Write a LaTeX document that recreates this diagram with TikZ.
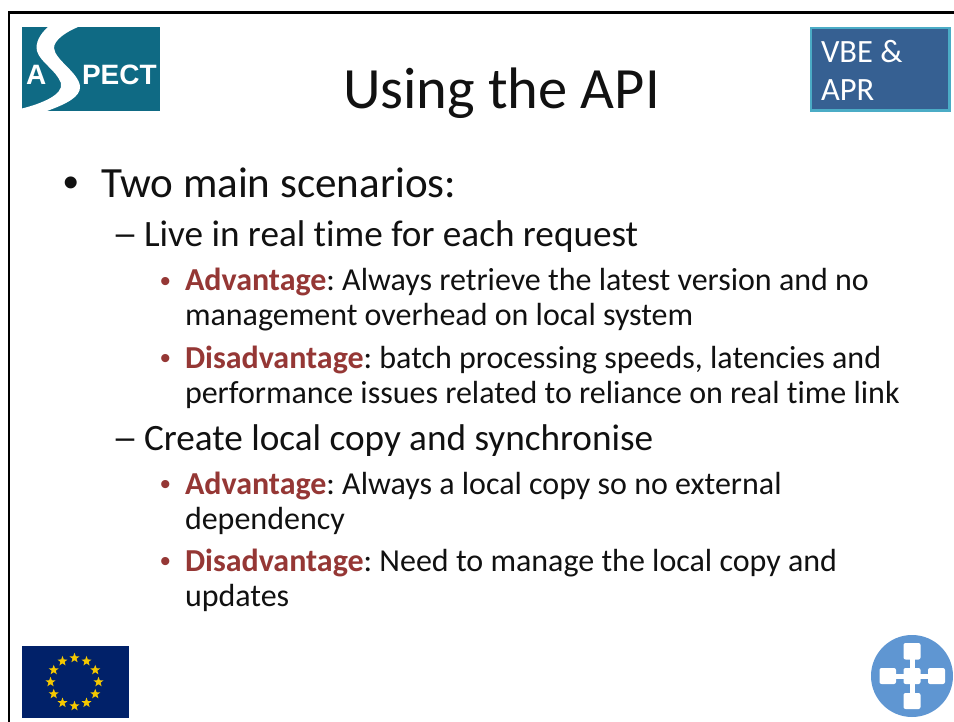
\documentclass[tikz,border=0pt]{standalone}
\usepackage{fontspec}
\setmainfont[Ligatures=NoCommon]{Carlito}
\newfontfamily\bulletfont{Liberation Sans}
\usetikzlibrary{shapes.geometric}
\definecolor{adv}{HTML}{953735}
\definecolor{teal}{HTML}{0F6A84}
\definecolor{vbe}{HTML}{366092}
\definecolor{vbeline}{HTML}{4BACC6}
\definecolor{euflag}{HTML}{012169}
\definecolor{eustar}{HTML}{F5C800}
\definecolor{hub}{HTML}{5F96D2}
\definecolor{ink}{HTML}{111111}
\frenchspacing
\tikzset{
  txt/.style={anchor=base west,inner sep=0pt,outer sep=0pt,text=ink},
  lone/.style={txt,font=\fontsize{43.1}{43.1}\selectfont},
  ltwo/.style={txt,font=\fontsize{37.2}{37.2}\selectfont},
  lthree/.style={txt,font=\fontsize{32}{32}\selectfont},
  dashtwo/.style={ltwo,xscale=1.4,transform shape},
  logotext/.style={txt,text=white,font=\bulletfont\bfseries\fontsize{28}{28}\selectfont},
  vbetext/.style={txt,text=white,font=\fontsize{32.5}{32.5}\selectfont},
  bulletthree/.style={txt,text=adv,font=\bulletfont\fontsize{30}{30}\selectfont},
  hubbox/.style={fill=white,rounded corners=2pt},
  eustarshape/.style={star,star points=5,star point ratio=2.4,fill=eustar,minimum size=10.5pt,inner sep=0pt}
}
\newcommand{\adv}[1]{\textbf{\textcolor{adv}{#1}}}
\begin{document}
\begin{tikzpicture}[x=1pt,y=-1pt]
\useasboundingbox (0,0) rectangle (954,722);
\fill[white] (0,0) rectangle (954,722);
% slide frame
\draw[line width=2.6pt,black] (9,722) -- (9,12.5) -- (954,12.5);
% ASPECT logo
\fill[teal] (22,27) rectangle (160,111);
\begin{scope}
\clip (22,27) rectangle (160,111);
\fill[white] (48,27) .. controls (40,34) and (35,43) .. (37,51)
  .. controls (40,62) and (56,70) .. (61,83)
  .. controls (64,95) and (40,104) .. (22,108.5)
  -- (22,111) -- (47,111)
  .. controls (66,104) and (81,97) .. (80,86)
  .. controls (78,72) and (55,60) .. (54,48)
  .. controls (54,40) and (66,32) .. (78,27) -- cycle;
\end{scope}
\node[logotext] (logoa) at (26,84.5) {A};
\node[logotext] (logop) at (82,84.5) {PECT};
% VBE box
\draw[line width=2.4pt,vbeline,fill=vbe] (811,28) rectangle (949.5,110.5);
\node[vbetext] (vbe1) at (821,63) {VBE \&};
\node[vbetext] (vbe2) at (821,101) {APR};
% title
\node[txt,font=\fontsize{58.5}{58.5}\selectfont] (title) at (343,109) {Using the API};
% body
\begin{scope}[shift={(0,1)}]
\node[txt,font=\bulletfont\fontsize{44}{44}\selectfont] (b0) at (63.5,196.5) {•};
\node[lone] (l0) at (101,196.5) {Two main scenarios:};
\node[dashtwo] (d1) at (112,246) {–};
\node[ltwo] (l1) at (144,246) {Live in real time for each request};
\node[bulletthree] (b2) at (160,290.5) {•};
\node[lthree] (l2) at (185,290) {\adv{Advantage}: Always retrieve the latest version and no};
\node[lthree] (l3) at (185,325) {management overhead on local system};
\node[bulletthree] (b4) at (160,367.5) {•};
\node[lthree] (l4) at (185,367) {\adv{Disadvantage}: batch processing speeds, latencies and};
\node[lthree] (l5) at (185,402) {performance issues related to reliance on real time link};
\node[dashtwo] (d6) at (112,449) {–};
\node[ltwo] (l6) at (144,449) {Create local copy and synchronise};
\node[bulletthree] (b7) at (160,493.5) {•};
\node[lthree] (l7) at (185,493) {\adv{Advantage}: Always a local copy so no external};
\node[lthree] (l8) at (185,528) {dependency};
\node[bulletthree] (b9) at (160,570.5) {•};
\node[lthree] (l9) at (185,570) {\adv{Disadvantage}: Need to manage the local copy and};
\node[lthree] (l10) at (185,605) {updates};
\end{scope}
% EU flag
\fill[euflag] (22,646) rectangle (129,718);
\foreach \a in {0,30,...,330}
  \node[eustarshape] at ({74.5+24*cos(\a)},{682-24*sin(\a)}) {};
% hub logo
\fill[hub] (912,676) circle (41);
\begin{scope}
\fill[white] (910,645) rectangle (915,708);
\fill[white] (880,674) rectangle (945,679);
\fill[hubbox] (903.5,643) rectangle (920.5,659.5);
\fill[hubbox] (903.5,693) rectangle (920.5,709);
\fill[hubbox] (879.5,668) rectangle (896,684);
\fill[hubbox] (928,668) rectangle (945,684);
\fill[hubbox] (903.5,668) rectangle (920.5,684);
\end{scope}
\end{tikzpicture}
\end{document}
